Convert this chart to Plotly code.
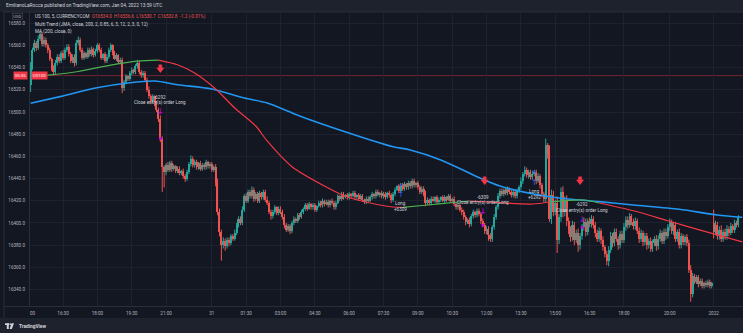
import plotly.graph_objects as go

# ---------------- US 100, 5-minute bars (bar 0 = 15:00) ----------------
closes = [
    16540, 16556, 16562, 16558, 16566, 16570, 16561, 16565, 16560, 16556,
    16548, 16540, 16536, 16544, 16550, 16546, 16553, 16549, 16556, 16559,
    16552, 16546, 16550, 16544, 16562, 16565, 16556, 16549, 16553, 16550,
    16556, 16552, 16557, 16551, 16555, 16560, 16556, 16549, 16552, 16546,
    16550, 16556, 16560, 16553, 16548, 16551, 16545, 16547, 16522, 16527,
    16532, 16530, 16535, 16538, 16536, 16541, 16544, 16536, 16533, 16535,
    16529, 16520, 16514, 16510, 16514, 16508, 16502, 16494, 16476, 16450,
    16446, 16452, 16448, 16454, 16449, 16451, 16447, 16449, 16445, 16447,
    16442, 16440, 16446, 16453, 16458, 16452, 16455, 16450, 16454, 16449,
    16452, 16450, 16455, 16451, 16453, 16448, 16450, 16436, 16410, 16392,
    16380, 16384, 16379, 16385, 16382, 16388, 16386, 16391, 16398, 16404,
    16400, 16412, 16424, 16420, 16428, 16424, 16430, 16422, 16426, 16420,
    16427, 16423, 16428, 16421, 16418, 16410, 16406, 16410, 16414, 16409,
    16413, 16410, 16405, 16398, 16394, 16397, 16393, 16400, 16404, 16402,
    16407, 16405, 16410, 16413, 16416, 16413, 16417, 16414, 16416, 16412,
    16415, 16418, 16416, 16420, 16417, 16419, 16416, 16420, 16418, 16414,
    16418, 16424, 16422, 16426, 16423, 16425, 16423, 16426, 16424, 16427,
    16423, 16425, 16422, 16424, 16421, 16419, 16422, 16420, 16423, 16426,
    16424, 16428, 16425, 16427, 16424, 16426, 16423, 16427, 16425, 16421,
    16426, 16430, 16433, 16429, 16434, 16431, 16435, 16432, 16436, 16433,
    16438, 16434, 16436, 16432, 16428, 16431, 16426, 16418, 16421, 16418,
    16422, 16420, 16423, 16419, 16421, 16423, 16420, 16423, 16421, 16424,
    16420, 16422, 16417, 16414, 16416, 16412, 16410, 16405, 16401, 16403,
    16399, 16406, 16410, 16407, 16411, 16408, 16402, 16398, 16393, 16395,
    16389, 16386, 16396, 16405, 16414, 16424, 16429, 16426, 16430, 16427,
    16431, 16428, 16425, 16428, 16424, 16429, 16432, 16438, 16444, 16448,
    16443, 16446, 16441, 16444, 16446, 16438, 16442, 16434, 16426, 16422,
    16470, 16462, 16404, 16425, 16410, 16418, 16385, 16405, 16428, 16410,
    16420, 16402, 16394, 16387, 16398, 16385, 16391, 16380, 16388, 16396,
    16401, 16392, 16402, 16399, 16404, 16398, 16391, 16386, 16393, 16385,
    16378, 16372, 16366, 16376, 16388, 16382, 16392, 16386, 16380, 16390,
    16385, 16396, 16403, 16398, 16406, 16401, 16397, 16402, 16393, 16386,
    16391, 16383, 16388, 16380, 16384, 16377, 16382, 16386, 16379, 16386,
    16391, 16384, 16392, 16388, 16396, 16401, 16393, 16398, 16386, 16392,
    16380, 16388, 16383, 16387, 16382, 16358, 16336, 16352, 16347, 16351,
    16345, 16348, 16343, 16346, 16344, 16347, 16343, 16346, 16392, 16398,
    16388, 16394, 16386, 16392, 16388, 16395, 16391, 16397, 16394, 16400,
    16398, 16405,
]
up_wick = [
    5, 2, 3, 2, 3, 3, 2, 3, 2, 2, 2, 1, 2, 3, 2, 2, 2, 3, 2, 2,
    2, 2, 2, 2, 3, 3, 2, 2, 2, 1, 2, 2, 2, 1, 2, 2, 2, 2, 1, 2,
    2, 2, 2, 1, 2, 2, 1, 2, 2, 2, 2, 1, 2, 2, 1, 2, 3, 2, 2, 2,
    2, 2, 3, 2, 2, 1, 2, 2, 3, 2, 2, 2, 3, 2, 2, 2, 1, 2, 2, 1,
    2, 2, 2, 2, 3, 2, 2, 2, 1, 2, 2, 2, 2, 1, 2, 2, 2, 3, 4, 3,
    2, 3, 2, 2, 2, 2, 2, 3, 2, 2, 2, 3, 2, 3, 2, 2, 3, 2, 2, 2,
    2, 1, 2, 2, 3, 2, 2, 2, 2, 1, 2, 2, 2, 3, 2, 2, 2, 2, 2, 1,
    2, 2, 2, 1, 2, 2, 2, 1, 2, 2, 1, 2, 2, 2, 1, 2, 2, 1, 2, 2,
    2, 2, 1, 2, 2, 1, 2, 2, 1, 2, 2, 1, 2, 2, 2, 1, 2, 2, 2, 2,
    1, 2, 2, 1, 2, 2, 2, 1, 2, 2, 2, 2, 1, 2, 2, 2, 2, 1, 2, 2,
    2, 2, 1, 2, 2, 2, 2, 3, 2, 1, 2, 2, 1, 2, 2, 1, 2, 2, 1, 2,
    2, 1, 2, 2, 2, 1, 2, 2, 2, 1, 2, 2, 2, 1, 2, 2, 2, 2, 2, 2,
    2, 2, 2, 3, 2, 3, 2, 2, 1, 2, 2, 1, 2, 2, 2, 2, 2, 3, 2, 3,
    2, 2, 2, 3, 2, 2, 3, 2, 2, 2, 6, 2, 8, 5, 4, 3, 6, 3, 4, 5,
    4, 5, 3, 3, 4, 3, 3, 4, 3, 3, 4, 3, 2, 3, 3, 2, 3, 3, 3, 2,
    3, 2, 3, 3, 4, 3, 3, 3, 2, 3, 3, 4, 3, 3, 3, 2, 3, 3, 2, 3,
    3, 2, 3, 3, 2, 3, 3, 2, 3, 3, 3, 2, 3, 3, 3, 3, 2, 3, 3, 2,
    3, 3, 2, 2, 3, 3, 4, 3, 2, 2, 2, 2, 2, 1, 2, 2, 2, 1, 12, 4,
    3, 3, 4, 2, 3, 3, 2, 3, 2, 3, 2, 2,
]
down_wick = [
    6, 2, 2, 3, 2, 2, 2, 2, 2, 3, 2, 3, 3, 2, 2, 2, 2, 2, 2, 2,
    2, 2, 2, 3, 2, 2, 2, 2, 2, 2, 2, 2, 2, 2, 1, 2, 2, 2, 2, 2,
    2, 2, 2, 2, 1, 2, 2, 2, 5, 3, 2, 2, 2, 2, 2, 2, 2, 2, 2, 2,
    2, 2, 2, 3, 2, 3, 2, 3, 3, 22, 14, 3, 2, 2, 3, 2, 2, 2, 2, 2,
    2, 3, 2, 2, 2, 2, 2, 2, 2, 2, 2, 2, 2, 2, 2, 2, 2, 3, 3, 4,
    14, 3, 4, 2, 3, 2, 2, 2, 2, 2, 2, 2, 2, 2, 2, 2, 2, 3, 2, 2,
    2, 2, 2, 2, 2, 2, 3, 2, 2, 2, 2, 2, 2, 3, 2, 2, 3, 2, 2, 2,
    2, 2, 1, 2, 2, 2, 1, 2, 2, 2, 2, 1, 2, 2, 2, 1, 2, 2, 2, 2,
    2, 1, 2, 2, 2, 1, 2, 2, 2, 1, 2, 2, 2, 1, 2, 2, 2, 2, 1, 2,
    2, 2, 1, 2, 2, 2, 2, 1, 2, 3, 2, 2, 1, 2, 2, 2, 2, 2, 2, 2,
    2, 2, 2, 2, 2, 2, 2, 3, 2, 2, 2, 1, 2, 2, 2, 2, 1, 2, 2, 1,
    2, 2, 2, 2, 2, 2, 3, 2, 3, 2, 3, 2, 2, 2, 2, 2, 3, 2, 3, 3,
    5, 3, 3, 2, 2, 2, 2, 2, 2, 2, 2, 2, 2, 2, 2, 2, 2, 2, 3, 2,
    2, 3, 2, 2, 2, 3, 2, 3, 3, 3, 3, 4, 3, 5, 4, 3, 12, 4, 4, 5,
    4, 5, 4, 4, 3, 5, 3, 6, 4, 3, 3, 4, 3, 3, 3, 3, 4, 3, 3, 4,
    3, 3, 4, 5, 3, 4, 3, 3, 4, 3, 3, 3, 3, 3, 2, 3, 3, 3, 3, 4,
    3, 4, 3, 4, 3, 3, 3, 3, 4, 3, 3, 3, 3, 3, 2, 3, 3, 4, 3, 3,
    3, 3, 3, 3, 3, 3, 7, 3, 2, 2, 3, 2, 2, 2, 2, 2, 2, 2, 6, 3,
    3, 3, 3, 3, 3, 3, 3, 2, 3, 3, 2, 2,
]
first_open = 16524.0
session_open = {359: 16400.0}          # new-year session opens with a gap
last_ohlc = [16534.0, 16536.6, 16530.7, 16532.8]

# ---------------- indicators (sampled along the bar index) ----------------
ma_bars = [1, 17, 35, 52, 66, 78, 96, 113, 125, 142, 163, 191, 200, 216, 235, 247, 273, 299, 317, 341, 361, 374]
ma_vals = [16507.8, 16514.1, 16521.6, 16526.1, 16527.9, 16524.6, 16520.7, 16512.6, 16508.1, 16496.4,
           16483.8, 16468.7, 16465.8, 16456.8, 16441.7, 16433.3, 16423.7, 16419.2, 16416.2, 16412.3,
           16407.2, 16405.1]

trend_bars = [1, 10, 26, 43, 57, 68, 78, 87, 98, 108, 119, 125, 138, 156, 167, 179, 191, 196,
              209, 225, 231, 247, 264, 273, 291, 299, 317, 335, 352, 374]
trend_vals = [16532.4, 16533.3, 16536.5, 16542.3, 16545.9, 16546.8, 16542.6, 16535.1, 16520.7,
              16503.6, 16487.4, 16473.9, 16450.7, 16432.4, 16423.4, 16418.0, 16414.4, 16414.1,
              16416.2, 16418.9, 16419.8, 16418.3, 16417.1, 16418.9, 16420.7, 16418.0, 16411.0,
              16402.0, 16393.5, 16383.0]
trend_up_spans = [(1, 68), (196, 231), (273, 299)]

# ---------------- strategy events ----------------
entry_bars = [195, 265]
entry_qty = ["+6309", "+6292"]
entry_arrow = [16424.8, 16435.6]
exit_bars = [69, 238, 290]
exit_qty = ["-6292", "-6309", "-6292"]
exit_arrow = [16500.0, 16409.9, 16402.7]
signal_bars = [69, 239, 289]
signal_tip = [16535.1, 16434.2, 16434.2]

# ---------------- axes ----------------
time_ticks = [18, 36, 54, 72, 96, 114, 132, 150, 168, 186, 204, 222, 240, 258, 276, 294, 312, 336, 359]
time_labels = ["16:30", "18:00", "19:30", "21:00", "31", "01:30", "03:00", "04:30", "06:00",
               "07:30", "09:00", "10:30", "12:00", "13:30", "15:00", "16:30", "18:00", "20:00", "2022"]
price_ticks = list(range(16340, 16581, 20))
X_RANGE = [0.68, 374.4]
Y_RANGE = [16325.2, 16589.2]

# ---------------- style ----------------
BG = "#131722"
PANEL = "#1e222d"
BORDER = "#2a2e39"
GRID = "#1e2230"
UP = "#26a69a"
DN = "#ef5350"
TXT = "#b2b5be"
LIGHT = "#d1d4dc"
FONT = "Roboto, sans-serif"
W, H = 743, 333
PL, PR, PT, PB = 30, 743, 13, 306
K = (Y_RANGE[1] - Y_RANGE[0]) / (PB - PT)   # price units per pixel


def fx(x):
    return (x - PL) / (PR - PL)


def fy(y):
    return (PB - y) / (PB - PT)


# ---------------- candles ----------------
bars = list(range(1, len(closes) + 1))
opens, highs, lows = [], [], []
prev = first_open
for b, c, u, d in zip(bars, closes, up_wick, down_wick):
    o = session_open.get(b, prev)
    opens.append(o)
    highs.append(max(o, c) + u)
    lows.append(min(o, c) - d)
    prev = c

fig = go.Figure()

for is_up, col in ((True, UP), (False, DN)):
    wx, wy = [], []
    bx, bb, bh = [], [], []
    for b, o, h, l, c in zip(bars, opens, highs, lows, closes):
        if (c >= o) != is_up:
            continue
        wx += [b, b, None]
        wy += [l, h, None]
        bx.append(b)
        bb.append(min(o, c))
        bh.append(max(abs(c - o), 0.5))
    fig.add_trace(go.Scatter(x=wx, y=wy, mode="lines", line=dict(color=col, width=1),
                             hoverinfo="skip", showlegend=False))
    fig.add_trace(go.Bar(x=bx, y=bh, base=bb, width=0.62, marker=dict(color=col, line=dict(width=0)),
                         hoverinfo="skip", showlegend=False))

# ---------------- MA (200) ----------------
fig.add_trace(go.Scatter(x=ma_bars, y=ma_vals, mode="lines",
                         line=dict(color="#2196f3", width=1.6, shape="spline", smoothing=0.8),
                         hoverinfo="skip", showlegend=False))


# ---------------- Multi Trend line, coloured by direction ----------------
def is_up_seg(a, b):
    return any(s <= a and b <= e for s, e in trend_up_spans)


runs = []
for j in range(len(trend_bars) - 1):
    up = is_up_seg(trend_bars[j], trend_bars[j + 1])
    if runs and runs[-1][0] == up:
        runs[-1][1].append(j + 1)
    else:
        runs.append([up, [j, j + 1]])
for up in (False, True):
    tx, ty = [], []
    for r_up, idx in runs:
        if r_up != up:
            continue
        tx += [trend_bars[i] for i in idx] + [None]
        ty += [trend_vals[i] for i in idx] + [None]
    fig.add_trace(go.Scatter(x=tx, y=ty, mode="lines",
                             line=dict(color="#4caf50" if up else "#f23645", width=1.2,
                                       shape="spline", smoothing=0.8),
                             connectgaps=False, hoverinfo="skip", showlegend=False))

# ---------------- sell signals (block arrows) ----------------
fig.add_trace(go.Scatter(x=signal_bars, y=[t + 6.7 * K for t in signal_tip], mode="markers",
                         marker=dict(symbol="square", size=3.6, color="#f23645", line=dict(width=0)),
                         hoverinfo="skip", showlegend=False))
fig.add_trace(go.Scatter(x=signal_bars, y=[t + 3.5 * K for t in signal_tip], mode="markers",
                         marker=dict(symbol="triangle-down", size=7, color="#f23645", line=dict(width=0)),
                         hoverinfo="skip", showlegend=False))

# ---------------- strategy fills ----------------
fig.add_trace(go.Scatter(x=entry_bars, y=[closes[b - 1] for b in entry_bars], mode="markers",
                         marker=dict(symbol="triangle-up", size=3, color="#2962ff"),
                         hoverinfo="skip", showlegend=False))
fig.add_trace(go.Scatter(x=exit_bars, y=[closes[b - 1] for b in exit_bars], mode="markers",
                         marker=dict(symbol="square", size=2.5, color="#d500f9"),
                         hoverinfo="skip", showlegend=False))
fig.add_trace(go.Scatter(x=entry_bars, y=entry_arrow, mode="text", text=["↑"] * len(entry_bars),
                         textfont=dict(family="DejaVu Sans", size=8, color="#2962ff"),
                         hoverinfo="skip", showlegend=False))
fig.add_trace(go.Scatter(x=exit_bars, y=exit_arrow, mode="text", text=["↓"] * len(exit_bars),
                         textfont=dict(family="DejaVu Sans", size=8, color="#d500f9"),
                         hoverinfo="skip", showlegend=False))

ann = []
small = dict(family=FONT, size=4.6, color=LIGHT)
for b, y, q in zip(entry_bars, entry_arrow, entry_qty):
    ann.append(dict(x=b, y=y, xref="x", yref="y", text="Long", showarrow=False, yshift=-8.5, font=small))
    ann.append(dict(x=b, y=y, xref="x", yref="y", text=q, showarrow=False, yshift=-14.5, font=small))
for b, y, q in zip(exit_bars, exit_arrow, exit_qty):
    ann.append(dict(x=b, y=y, xref="x", yref="y", text=q, showarrow=False, yshift=15, font=small))
    ann.append(dict(x=b, y=y, xref="x", yref="y", text="Close entry(s) order Long", showarrow=False,
                    yshift=9.5, font=small))

# ---------------- header, legend, chrome ----------------
ann.append(dict(x=fx(4), y=fy(5.5), xref="paper", yref="paper", xanchor="left", yanchor="middle",
                showarrow=False, text="EmilianoLaRocca published on TradingView.com, Jan 04, 2022 13:59 UTC",
                font=dict(family=FONT, size=4.8, color=LIGHT)))
o, h, l, c = last_ohlc
chg = c - o
legend1 = ("US 100, 5, CURRENCYCOM  "
           f"<span style='color:{DN}'>O{o:.1f}  H{h:.1f}  L{l:.1f}  C{c:.1f}  {chg:.1f} ({chg / o * 100:.2f}%)</span>")
for yy, txt in ((16, legend1),
                (24, "Multi Trend (JMA, close, 200, 2, 0.85, 6, 3, 12, 2, 3, 0, 12)"),
                (31, "MA (200, close, 0)")):
    ann.append(dict(x=fx(33), y=fy(yy), xref="paper", yref="paper", xanchor="left", yanchor="middle",
                    showarrow=False, text=txt, font=dict(family=FONT, size=4.6, color=LIGHT)))
ann.append(dict(x=fx(17.5), y=fy(16.5), xref="paper", yref="paper", xanchor="center", yanchor="middle",
                showarrow=False, text="USD",
                font=dict(family=FONT, size=4.2, color=TXT), bordercolor="#434651", borderwidth=0.6,
                borderpad=0.6))
# last-price tags
for xx, txt in ((20, "00:35"), (39.5, "US100")):
    ann.append(dict(x=fx(xx), y=c, xref="paper", yref="y", xanchor="center", yanchor="middle",
                    showarrow=False, text=txt,
                    bgcolor="#f23645", borderpad=0.8, font=dict(family=FONT, size=4.4, color="#ffffff")))
# first time label, partially hidden behind the price scale
ann.append(dict(x=fx(33), y=fy(313), xref="paper", yref="paper", xanchor="center", yanchor="middle",
                showarrow=False, text="00", font=dict(family=FONT, size=4.6, color=TXT)))
ann.append(dict(x=fx(16.5), y=fy(326), xref="paper", yref="paper", xanchor="left", yanchor="middle",
                showarrow=False, text="<b>TradingView</b>", font=dict(family=FONT, size=4.8, color=LIGHT)))

shapes = [
    dict(type="rect", xref="paper", yref="paper", x0=fx(0), x1=fx(W), y0=fy(12), y1=fy(0),
         fillcolor=PANEL, line=dict(width=0), layer="below"),
    dict(type="rect", xref="paper", yref="paper", x0=fx(0), x1=fx(W), y0=fy(H), y1=fy(318),
         fillcolor=PANEL, line=dict(width=0), layer="below"),
    dict(type="line", xref="paper", yref="paper", x0=fx(4), x1=fx(4), y0=fy(318), y1=fy(12),
         line=dict(color=BORDER, width=1)),
    dict(type="line", xref="paper", yref="paper", x0=fx(4), x1=fx(W), y0=fy(12), y1=fy(12),
         line=dict(color=BORDER, width=1)),
    dict(type="line", xref="paper", yref="paper", x0=fx(4), x1=fx(W), y0=fy(306.5), y1=fy(306.5),
         line=dict(color=BORDER, width=1)),
    dict(type="line", xref="paper", yref="paper", x0=fx(29.5), x1=fx(29.5), y0=fy(306.5), y1=fy(12),
         line=dict(color=BORDER, width=1)),
    # last-price line
    dict(type="line", xref="paper", yref="y", x0=0, x1=1, y0=c, y1=c,
         line=dict(color="rgba(242,54,69,0.45)", width=1), layer="below"),
    # TradingView mark
    dict(type="rect", xref="paper", yref="paper", x0=fx(5), x1=fx(9), y0=fy(325), y1=fy(323.3),
         fillcolor=LIGHT, line=dict(width=0)),
    dict(type="rect", xref="paper", yref="paper", x0=fx(6.8), x1=fx(8.8), y0=fy(329), y1=fy(323.3),
         fillcolor=LIGHT, line=dict(width=0)),
    dict(type="circle", xref="paper", yref="paper", x0=fx(9.4), x1=fx(11), y0=fy(325), y1=fy(323.3),
         fillcolor=LIGHT, line=dict(width=0)),
    dict(type="path", xref="paper", yref="paper",
         path=f"M{fx(11.5)},{fy(323.3)} L{fx(14)},{fy(323.3)} L{fx(11.8)},{fy(329)} L{fx(9.6)},{fy(329)} Z",
         fillcolor=LIGHT, line=dict(width=0)),
]

fig.update_layout(
    width=W, height=H, autosize=False,
    margin=dict(l=PL, r=W - PR, t=PT, b=H - PB, pad=0),
    paper_bgcolor=BG, plot_bgcolor=BG,
    barmode="overlay", bargap=0, hovermode=False, showlegend=False,
    annotations=ann, shapes=shapes,
    xaxis=dict(range=X_RANGE, tickmode="array", tickvals=time_ticks, ticktext=time_labels,
               showgrid=True, gridcolor=GRID, gridwidth=1, zeroline=False, showline=False,
               ticks="", ticklabelstandoff=3, tickfont=dict(family=FONT, size=4.6, color=TXT),
               rangeslider=dict(visible=False), fixedrange=True),
    yaxis=dict(range=Y_RANGE, side="left", tickmode="array", tickvals=price_ticks,
               ticktext=[f"{p:.1f}" for p in price_ticks],
               showgrid=True, gridcolor=GRID, gridwidth=1, zeroline=False, showline=False,
               ticks="", ticklabelstandoff=4, tickfont=dict(family=FONT, size=4.6, color=TXT),
               fixedrange=True),
)

fig.write_html("out.html", config={"displayModeBar": False})
